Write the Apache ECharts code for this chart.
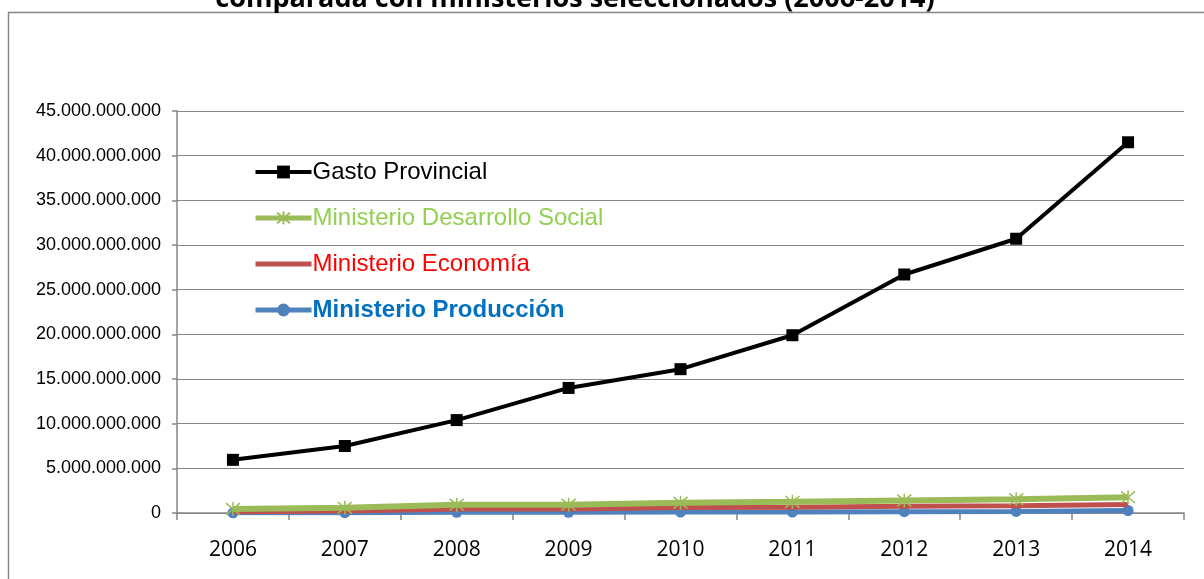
<!DOCTYPE html>
<html>
<head>
<meta charset="utf-8">
<script src="https://cdn.jsdelivr.net/npm/echarts@6/dist/echarts.min.js"></script>
<style>html,body{margin:0;padding:0;background:#fff}#c{width:1204px;height:579px}</style>
</head>
<body>
<div id="c"></div>
<script>
var years = ['2006','2007','2008','2009','2010','2011','2012','2013','2014'];
var gastoProvincial = [5.95e9, 7.5e9, 10.4e9, 14.0e9, 16.1e9, 19.9e9, 26.7e9, 30.7e9, 41.5e9];
var minDesarrolloSocial = [0.45e9, 0.58e9, 0.93e9, 0.93e9, 1.15e9, 1.25e9, 1.4e9, 1.55e9, 1.77e9];
var minEconomia = [0.15e9, 0.22e9, 0.45e9, 0.45e9, 0.62e9, 0.65e9, 0.75e9, 0.82e9, 0.95e9];
var minProduccion = [0.02e9, 0.03e9, 0.08e9, 0.08e9, 0.1e9, 0.1e9, 0.15e9, 0.17e9, 0.28e9];
var titleText = 'comparada con ministerios seleccionados (2006-2014)';

function fmt(v){ return String(Math.round(v)).replace(/\B(?=(\d{3})+(?!\d))/g, '.'); }

var chart = echarts.init(document.getElementById('c'), null, {renderer:'canvas'});
var asterisk = 'path://M0,0L10,10M10,0L0,10M5,-1L5,11';
chart.setOption({
  animation: false,
  backgroundColor: '#fff',
  graphic: [
    {type:'rect', shape:{x:8.5, y:12.5, width:1220, height:600}, style:{fill:'none', stroke:'#868686', lineWidth:1.5}, z:-1},
    {type:'text', x:575, y:0, style:{text:titleText, font:'bold 27px "Open Sans"', fill:'#000', align:'center', verticalAlign:'bottom', y:13}}
  ],
  grid: {left:177, right:20, top:111, bottom:66, containLabel:false},
  legend: {
    orient:'vertical', left:253, top:160, padding:0, itemWidth:56, itemHeight:16, itemGap:22,
    textStyle:{fontFamily:'Liberation Sans', fontSize:24, padding:[0,0,0,-4]},
    data:[
      {name:'Gasto Provincial', textStyle:{color:'#000'}, lineStyle:{width:4}},
      {name:'Ministerio Desarrollo Social', textStyle:{color:'#92D050'}, lineStyle:{width:5}},
      {name:'Ministerio Economía', textStyle:{color:'#FF0000'}, lineStyle:{width:5}, itemStyle:{opacity:0}},
      {name:'Ministerio Producción', textStyle:{color:'#0070C0', fontWeight:'bold'}, lineStyle:{width:5}}
    ]
  },
  xAxis: {
    type:'category', data:years, boundaryGap:true,
    axisLine:{lineStyle:{color:'#868686', width:1.5}},
    axisTick:{show:true, length:7, interval:0, lineStyle:{color:'#868686', width:1.5}},
    axisLabel:{fontFamily:'Open Sans', fontSize:21, color:'#000', margin:27}
  },
  yAxis: {
    type:'value', min:0, max:45e9, interval:5e9,
    axisLine:{show:true, lineStyle:{color:'#868686', width:1.5}},
    axisTick:{show:true, length:5, lineStyle:{color:'#868686', width:1.5}},
    splitLine:{lineStyle:{color:'#868686', width:1.2}},
    axisLabel:{fontFamily:'Liberation Sans', fontSize:18, color:'#000', margin:16, formatter:fmt}
  },
  series: [
    {name:'Ministerio Producción', type:'line', data:minProduccion, z:2,
     color:'#4F81BD', lineStyle:{width:5, color:'#4F81BD'}, symbol:'circle', symbolSize:11,
     itemStyle:{color:'#4F81BD'}},
    {name:'Ministerio Economía', type:'line', data:minEconomia, z:3,
     color:'#C0504D', lineStyle:{width:5, color:'#C0504D'}, symbol:'none'},
    {name:'Ministerio Desarrollo Social', type:'line', data:minDesarrolloSocial, z:4,
     color:'#9BBB59', lineStyle:{width:6, color:'#9BBB59'}, symbol:asterisk, symbolSize:14,
     itemStyle:{color:'#9BBB59', borderColor:'#9BBB59', borderWidth:1.5}},
    {name:'Gasto Provincial', type:'line', data:gastoProvincial, z:5,
     color:'#000', lineStyle:{width:4, color:'#000'}, symbol:'rect', symbolSize:12,
     itemStyle:{color:'#000'}}
  ]
});
</script>
</body>
</html>
